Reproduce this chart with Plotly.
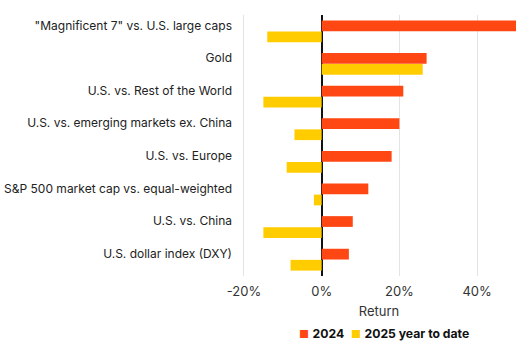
import plotly.graph_objects as go

categories = [
    '"Magnificent 7" vs. U.S. large caps',
    "Gold",
    "U.S. vs. Rest of the World",
    "U.S. vs. emerging markets ex. China",
    "U.S. vs. Europe",
    "S&P 500 market cap vs. equal-weighted",
    "U.S. vs. China",
    "U.S. dollar index (DXY)",
]
returns_2024 = [50, 27, 21, 20, 18, 12, 8, 7]
returns_2025_ytd = [-14, 26, -15, -7, -9, -2, -15, -8]
x_tick_values = [-20, 0, 20, 40]
x_tick_labels = ["-20%", "0%", "20%", "40%"]
series_names = ["2024", "2025 year to date"]
series_colors = ["#FF4713", "#FFCC00"]

FONT = "Inter, Roboto, sans-serif"

fig = go.Figure()
fig.add_trace(go.Bar(
    y=categories, x=returns_2024, name=series_names[0], orientation="h",
    marker=dict(color=series_colors[0], line=dict(width=0)),
))
fig.add_trace(go.Bar(
    y=categories, x=returns_2025_ytd, name=series_names[1], orientation="h",
    marker=dict(color=series_colors[1], line=dict(width=0)),
))

legend_text = "&nbsp;&nbsp;".join(
    f'<span style="color:{c};font-size:11px">■</span> <b>{n}</b>'
    for n, c in zip(series_names, series_colors)
)
fig.add_annotation(
    text=legend_text, xref="paper", yref="paper", x=0.518, y=-0.222,
    xanchor="center", yanchor="middle", showarrow=False,
    font=dict(family=FONT, size=12.2, color="#111111"),
)

fig.update_layout(
    width=528, height=344,
    margin=dict(l=242, r=12, t=15, b=68, autoexpand=False),
    paper_bgcolor="white", plot_bgcolor="white",
    barmode="group", bargap=0.32, bargroupgap=0.03,
    font=dict(family=FONT, size=12, color="#222222"),
    showlegend=False,
)
fig.update_xaxes(
    range=[-20.5, 50], tickvals=x_tick_values, ticktext=x_tick_labels,
    showgrid=True, gridcolor="#E3E3E3", gridwidth=1,
    zeroline=True, zerolinecolor="#111111", zerolinewidth=2,
    showline=False, ticks="", automargin=False,
    tickfont=dict(size=13, color="#333333"), ticklabelstandoff=6,
    title=dict(text="Return", font=dict(size=13, color="#333333"), standoff=8),
)
fig.update_yaxes(
    type="category", autorange="reversed", automargin=False,
    showgrid=False, showline=False, ticks="",
    tickfont=dict(size=12, color="#222222"),
    ticklabelshift=6, ticklabelstandoff=9,
)

fig.write_html("out.html")
